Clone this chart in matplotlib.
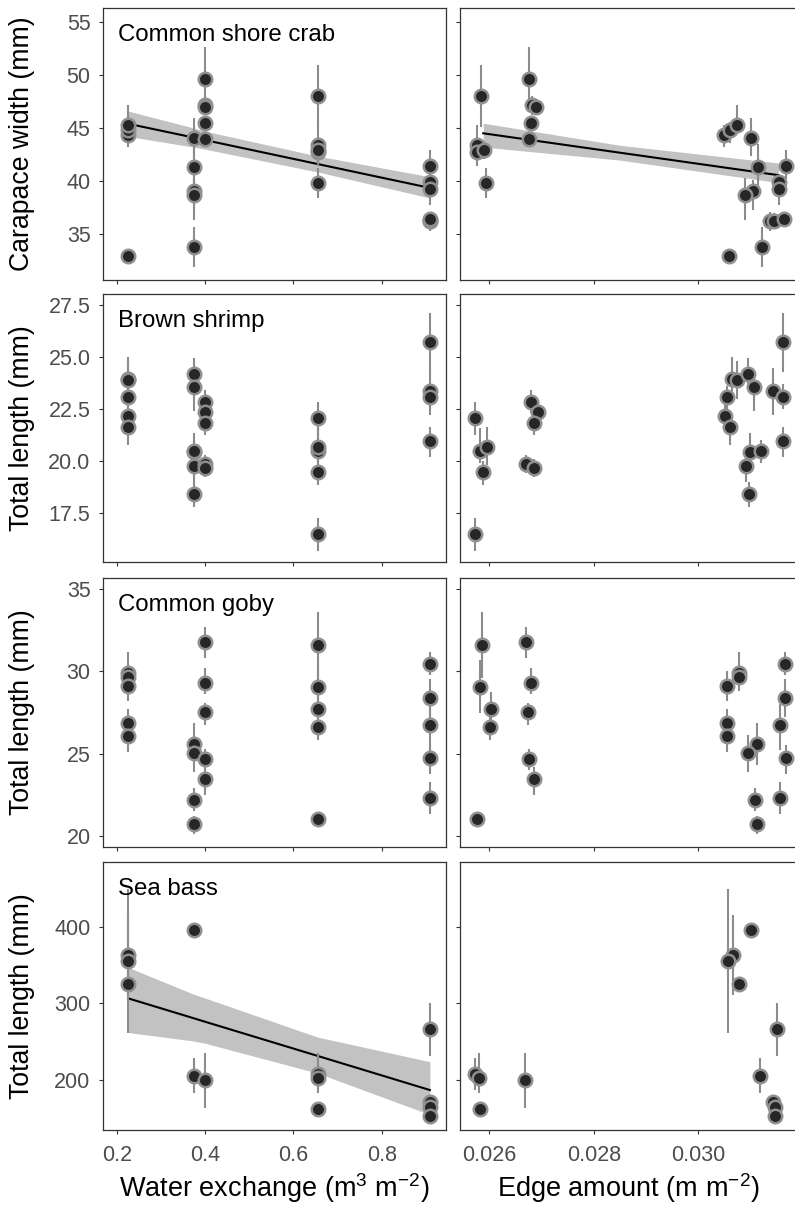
import numpy as np
import matplotlib.pyplot as plt

plt.rcParams['font.family'] = ['Liberation Sans', 'DejaVu Sans']
plt.rcParams['mathtext.default'] = 'regular'

# Common shore crab: one entry per sample (water exchange, edge amount, mean, CI)
crab_water = [0.226, 0.226, 0.226, 0.226,
              0.374, 0.374, 0.374, 0.374, 0.374,
              0.400, 0.400, 0.400, 0.400, 0.400,
              0.655, 0.655, 0.655, 0.655, 0.655,
              0.909, 0.909, 0.909, 0.909, 0.909, 0.909]
crab_edge = [0.03048, 0.03060, 0.03074, 0.03059,
             0.03100, 0.03114, 0.03104, 0.03089, 0.03121,
             0.02676, 0.02682, 0.02690, 0.02680, 0.02677,
             0.02585, 0.02577, 0.02577, 0.02591, 0.02594,
             0.03167, 0.03153, 0.03153, 0.03137, 0.03144, 0.03164]
crab_mean = [44.3, 44.8, 45.3, 32.9,
             44.1, 41.3, 39.1, 38.7, 33.8,
             49.6, 47.2, 47.0, 45.5, 44.0,
             48.0, 43.4, 42.7, 42.9, 39.8,
             41.4, 39.9, 39.2, 36.2, 36.2, 36.4]
crab_lo = [43.2, 43.6, 44.4, 32.6,
           42.4, 38.5, 37.3, 36.3, 31.9,
           47.6, 46.2, 46.2, 44.9, 43.4,
           45.1, 41.4, 41.9, 42.1, 38.4,
           40.2, 39.2, 37.7, 35.3, 35.5, 35.8]
crab_hi = [45.3, 45.6, 47.2, 33.2,
           45.9, 43.5, 40.1, 40.3, 35.7,
           52.6, 48.0, 47.7, 46.0, 44.6,
           50.9, 45.3, 43.5, 43.7, 41.2,
           42.9, 40.6, 40.0, 37.1, 37.0, 37.1]

# Brown shrimp
shrimp_water = [0.226, 0.226, 0.226, 0.226, 0.226,
                0.374, 0.374, 0.374, 0.374, 0.374, 0.374,
                0.400, 0.400, 0.400, 0.400, 0.400,
                0.655, 0.655, 0.655, 0.655, 0.655,
                0.909, 0.909, 0.909, 0.909]
shrimp_edge = [0.03065, 0.03074, 0.03055, 0.03051, 0.03060,
               0.03095, 0.03106, 0.03099, 0.03119, 0.03090, 0.03097,
               0.02680, 0.02694, 0.02686, 0.02671, 0.02685,
               0.02573, 0.02583, 0.02597, 0.02589, 0.02573,
               0.03161, 0.03142, 0.03162, 0.03162]
shrimp_mean = [23.95, 23.9, 23.06, 22.16, 21.63,
               24.2, 23.54, 20.45, 20.47, 19.77, 18.43,
               22.82, 22.37, 21.84, 19.85, 19.65,
               22.08, 20.5, 20.69, 19.49, 16.49,
               25.7, 23.36, 23.09, 20.94]
shrimp_lo = [22.9, 23.0, 22.5, 21.6, 20.77,
             23.5, 22.4, 19.8, 19.9, 19.0, 17.8,
             22.3, 21.9, 21.25, 19.4, 19.25,
             21.25, 19.9, 19.8, 18.85, 15.67,
             24.3, 22.2, 22.5, 20.2]
shrimp_hi = [25.0, 24.8, 23.6, 22.7, 22.2,
             24.97, 24.3, 21.33, 21.0, 20.4, 19.0,
             23.4, 22.8, 22.4, 20.3, 20.1,
             22.85, 21.57, 21.65, 20.0, 17.24,
             27.1, 24.46, 23.7, 21.65]

# Common goby
goby_water = [0.226, 0.226, 0.226, 0.226, 0.226,
              0.374, 0.374, 0.374, 0.374,
              0.400, 0.400, 0.400, 0.400, 0.400,
              0.655, 0.655, 0.655, 0.655, 0.655,
              0.909, 0.909, 0.909, 0.909, 0.909]
goby_edge = [0.03078, 0.03078, 0.03054, 0.03054, 0.03054,
             0.03112, 0.03095, 0.03108, 0.03112,
             0.02671, 0.02680, 0.02674, 0.02677, 0.02685,
             0.02587, 0.02583, 0.02603, 0.02601, 0.02578,
             0.03165, 0.03165, 0.03156, 0.03167, 0.03155]
goby_mean = [29.92, 29.67, 29.1, 26.87, 26.06,
             25.6, 25.05, 22.17, 20.7,
             31.8, 29.27, 27.5, 24.66, 23.43,
             31.62, 29.06, 27.69, 26.63, 21.0,
             30.43, 28.36, 26.73, 24.72, 22.31]
goby_lo = [28.8, 29.2, 28.2, 26.3, 25.1,
           24.3, 23.9, 21.5, 20.1,
           30.82, 28.6, 26.73, 24.0, 22.5,
           29.6, 27.44, 27.0, 25.82, 20.7,
           29.77, 27.2, 25.2, 23.74, 21.3]
goby_hi = [31.15, 30.1, 30.0, 27.7, 26.8,
           26.87, 26.1, 22.9, 21.2,
           32.7, 30.18, 28.1, 25.3, 24.2,
           33.62, 30.68, 28.76, 27.3, 21.3,
           31.15, 29.53, 28.0, 25.5, 23.29]

# Sea bass
bass_water = [0.226, 0.226, 0.226,
              0.374, 0.374,
              0.400,
              0.655, 0.655, 0.655,
              0.909, 0.909, 0.909, 0.909]
bass_edge = [0.03067, 0.03057, 0.03077,
             0.03100, 0.03118,
             0.02669,
             0.02573, 0.02580, 0.02583,
             0.03150, 0.03143, 0.03146, 0.03146]
bass_mean = [363.0, 355.5, 325.3,
             395.7, 205.8,
             200.0,
             207.5, 202.2, 162.0,
             266.2, 171.9, 165.3, 153.2]
bass_lo = [311.0, 261.0, 322.0,
           393.0, 182.8,
           163.2,
           187.0, 182.8, 159.0,
           231.4, 168.0, 162.0, 150.0]
bass_hi = [415.3, 448.7, 328.0,
           398.0, 228.4,
           235.0,
           228.4, 235.0, 165.0,
           300.1, 176.0, 169.0, 156.0]

# fitted lines with confidence bands
crab_wfit_x = [0.226, 0.374, 0.400, 0.655, 0.909]
crab_wfit_y = [45.4, 44.1, 43.86, 41.6, 39.35]
crab_wfit_lo = [44.2, 43.2, 43.0, 40.85, 38.4]
crab_wfit_hi = [46.6, 45.0, 44.7, 42.35, 40.4]

crab_efit_x = [0.02589, 0.0285, 0.03153]
crab_efit_y = [44.5, 42.67, 40.55]
crab_efit_lo = [43.2, 41.97, 39.85]
crab_efit_hi = [45.45, 43.37, 41.7]

bass_wfit_x = [0.226, 0.374, 0.400, 0.655, 0.909]
bass_wfit_y = [306.6, 280.7, 276.1, 231.5, 187.0]
bass_wfit_lo = [262.0, 251.0, 248.0, 209.0, 155.0]
bass_wfit_hi = [347.0, 312.0, 307.0, 256.0, 224.0]

titles = ['Common shore crab', 'Brown shrimp', 'Common goby', 'Sea bass']
ylabels = ['Carapace width (mm)', 'Total length (mm)', 'Total length (mm)', 'Total length (mm)']

rows = [
    (crab_water, crab_edge, crab_mean, crab_lo, crab_hi, (30.66, 56.32), [35, 40, 45, 50, 55], '{:.0f}'),
    (shrimp_water, shrimp_edge, shrimp_mean, shrimp_lo, shrimp_hi, (15.14, 28.03), [17.5, 20, 22.5, 25, 27.5], '{:.1f}'),
    (goby_water, goby_edge, goby_mean, goby_lo, goby_hi, (19.32, 35.67), [20, 25, 30, 35], '{:.0f}'),
    (bass_water, bass_edge, bass_mean, bass_lo, bass_hi, (134.9, 484.4), [200, 300, 400], '{:.0f}'),
]
fits = {
    (0, 0): (crab_wfit_x, crab_wfit_y, crab_wfit_lo, crab_wfit_hi),
    (0, 1): (crab_efit_x, crab_efit_y, crab_efit_lo, crab_efit_hi),
    (3, 0): (bass_wfit_x, bass_wfit_y, bass_wfit_lo, bass_wfit_hi),
}

W, H = 795, 1217
fig = plt.figure(figsize=(W / 100, H / 100), dpi=100)

col_px = [(103, 446), (460, 797)]
row_px = [(8, 280), (294, 562), (578, 847), (862, 1130)]
xlims = [(0.169, 0.9455), (0.025446, 0.031883)]
xticks = [[0.2, 0.4, 0.6, 0.8], [0.026, 0.028, 0.030]]
xfmts = ['{:.1f}', '{:.3f}']
xlabels = ['Water exchange (m$^3$ m$^{-2}$)', 'Edge amount (m m$^{-2}$)']

tick_col = '#4d4d4d'
frame_col = '#333333'

for r, (water, edge, mean, lo, hi, ylim, yt, yfmt) in enumerate(rows):
    for c in range(2):
        x0, x1 = col_px[c]
        y0, y1 = row_px[r]
        ax = fig.add_axes([x0 / W, 1 - y1 / H, (x1 - x0) / W, (y1 - y0) / H])
        xs = water if c == 0 else edge

        if (r, c) in fits:
            fx, fy, flo, fhi = fits[(r, c)]
            ax.fill_between(fx, flo, fhi, color='#c2c2c2', lw=0, zorder=1)
            ax.plot(fx, fy, color='black', lw=1.5, zorder=1.5)

        ax.vlines(xs, lo, hi, color='#8c8c8c', lw=1.5, zorder=2)
        ax.scatter(xs, mean, s=94, c='#262626', edgecolors='#8f8f8f', linewidths=1.8, zorder=3)

        ax.set_xlim(*xlims[c])
        ax.set_ylim(*ylim)
        ax.set_xticks(xticks[c])
        ax.set_yticks(yt)
        if r == 3:
            ax.set_xticklabels([xfmts[c].format(v) for v in xticks[c]])
        else:
            ax.set_xticklabels([])
        if c == 0:
            ax.set_yticklabels([yfmt.format(v) for v in yt])
            ax.text(0.045, 0.94, titles[r], transform=ax.transAxes, ha='left', va='top',
                    fontsize=17.3, color='black')
        else:
            ax.set_yticklabels([])

        ax.tick_params(length=3, width=0.8, color=frame_col, labelsize=15.5,
                       labelcolor=tick_col)
        ax.tick_params(axis='x', pad=8)
        ax.tick_params(axis='y', pad=6)
        for sp in ax.spines.values():
            sp.set_color(frame_col)
            sp.set_linewidth(0.9)

    yc = 1 - (row_px[r][0] + row_px[r][1]) / 2 / H
    fig.text(22 / W, yc, ylabels[r], rotation=90, ha='center', va='center', fontsize=19.2)

for c in range(2):
    xc = (col_px[c][0] + col_px[c][1]) / 2 / W
    fig.text(xc, 1 - 1188 / H, xlabels[c], ha='center', va='center', fontsize=19.5)

fig.savefig('out.png', dpi=100)
